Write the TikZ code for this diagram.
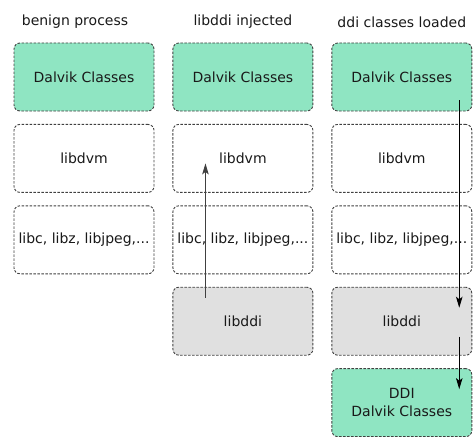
\documentclass[tikz,border=0pt]{standalone}
\usepackage{fontspec}
\setmainfont{DejaVu Sans}
\usepackage{tikz}
\usetikzlibrary{positioning,calc,arrows.meta}

\definecolor{dalvik}{HTML}{8FE5C2}
\definecolor{ddigray}{HTML}{E0E0E0}

\begin{document}
\begin{tikzpicture}[
    x=1pt, y=1pt,
    node distance=12.5pt and 18pt,
    layer/.style={rectangle, draw=black!75, dash pattern=on 2.5pt off 1.5pt, line width=0.9pt, rounded corners=6pt, minimum width=140pt, minimum height=68pt, text centered, text=black!90, inner sep=1pt, font=\fontsize{14}{18}\selectfont},
    java/.style={layer, fill=dalvik},
    native/.style={layer, fill=white},
    injected/.style={layer, fill=ddigray},
    title/.style={text=black!90, font=\fontsize{14}{17}\selectfont},
    arrow/.style={-{Stealth[length=11pt,width=6.5pt,inset=2.5pt]}, line width=0.9pt}
]
    \useasboundingbox (0,0) rectangle (473,-436);

    % Benign process
    \node[java] (dalvikA) at (84,-77) {Dalvik Classes};
    \node[native, below=of dalvikA] (dvmA) {libdvm};
    \node[native, below=of dvmA] (libcA) {libc, libz, libjpeg,...};

    % libddi injected
    \node[java, right=of dalvikA] (dalvikB) {Dalvik Classes};
    \node[native, below=of dalvikB] (dvmB) {libdvm};
    \node[native, below=of dvmB] (libcB) {libc, libz, libjpeg,...};
    \node[injected, below=of libcB] (ddiB) {libddi};

    % ddi classes loaded
    \node[java, right=of dalvikB] (dalvikC) {Dalvik Classes};
    \node[native, below=of dalvikC] (dvmC) {libdvm};
    \node[native, below=of dvmC] (libcC) {libc, libz, libjpeg,...};
    \node[injected, below=of libcC] (ddiC) {libddi};
    \node[java, below=of ddiC, align=center] (ddidC) {DDI\\Dalvik Classes};

    % Titles
    \node[title, above=11pt of dalvikA, xshift=-9pt] (titleA) {benign process};
    \node[title, above=11pt of dalvikB] (titleB) {libddi injected};
    \node[title, above=11pt of dalvikC] (titleC) {ddi classes loaded};

    % Flow
    \draw[arrow, black!75] ($(ddiB.north west)+(33,-11)$) -- ($(dvmB.west)+(33,-5)$);
    \draw[arrow] ($(dalvikC.south east)+(-13,11)$) -- ($(ddiC.north east)+(-13,-21)$);
    \draw[arrow] ($(ddiC.south east)+(-13,19)$) -- ($(ddidC.north east)+(-13,-21)$);
\end{tikzpicture}
\end{document}
